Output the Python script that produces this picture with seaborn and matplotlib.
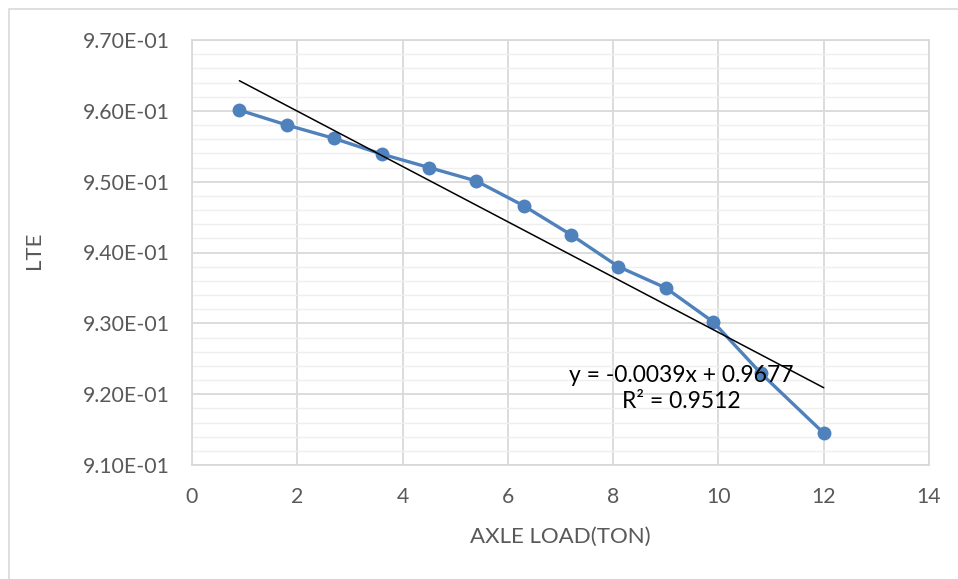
import numpy as np
import pandas as pd
import seaborn as sns
import matplotlib.pyplot as plt
from matplotlib.ticker import FuncFormatter, MultipleLocator
from matplotlib.patches import Rectangle

# data
axle_load = [0.9, 1.8, 2.7, 3.6, 4.5, 5.4, 6.3, 7.2, 8.1, 9.0, 9.9, 10.8, 12.0]
lte = [0.9601, 0.9580, 0.9561, 0.9539, 0.9520, 0.9501, 0.9466, 0.9425, 0.9380,
       0.9350, 0.9302, 0.9230, 0.9145]
trend_text = "y = -0.0039x + 0.9677\nR² = 0.9512"

df = pd.DataFrame({"load": axle_load, "lte": lte})

sns.set_theme(style="white")
plt.rcParams['font.family'] = ['Lato', 'DejaVu Sans']

fig = plt.figure(figsize=(9.58, 5.79), dpi=100)
ax = fig.add_axes([192/958, 1 - 465/579, (929-192)/958, (465-40)/579])

grid_c = '#D9D9D9'
ax.set_xlim(0, 14)
ax.set_ylim(0.91, 0.97)
ax.xaxis.set_major_locator(MultipleLocator(2))
ax.yaxis.set_major_locator(MultipleLocator(0.01))
ax.yaxis.set_minor_locator(MultipleLocator(0.002))
ax.grid(which='major', axis='both', color=grid_c, linewidth=1.3)
ax.grid(which='minor', axis='y', color='#EFEFEF', linewidth=1.0)
ax.set_axisbelow(True)
for s in ax.spines.values():
    s.set_color(grid_c)
    s.set_linewidth(1.3)

sns.lineplot(data=df, x="load", y="lte", ax=ax, color='#4F81BD', linewidth=2.4,
             marker='o', markersize=10, markeredgewidth=0, zorder=3)

# linear trendline
coef = np.polyfit(axle_load, lte, 1)
xs = np.array([axle_load[0], axle_load[-1]])
ax.plot(xs, np.polyval(coef, xs), color='black', linewidth=1.1, zorder=4)

ax.text(9.3, 0.9208, trend_text, ha='center', va='center', ma='center',
        fontsize=16.5, color='black', zorder=5, linespacing=1.3)

ax.yaxis.set_major_formatter(FuncFormatter(lambda v, p: '{:.2E}'.format(v)))
ax.tick_params(axis='both', which='both', length=0, labelsize=15.3,
               labelcolor='#595959', pad=16)
ax.set_xlabel("AXLE LOAD(TON)", fontsize=16, color='#595959')
ax.set_ylabel("LTE", fontsize=16, color='#595959')
ax.xaxis.set_label_coords((560-192)/737, (465-527)/425)
ax.yaxis.set_label_coords((44-192)/737, (465-250)/425)

# outer chart border
fig.patches.append(Rectangle((9/958, -0.1), 1.2, 1 - 9/579 + 0.1,
                             transform=fig.transFigure, fill=False,
                             edgecolor=grid_c, linewidth=1.2))

fig.savefig('out.png', dpi=100)
